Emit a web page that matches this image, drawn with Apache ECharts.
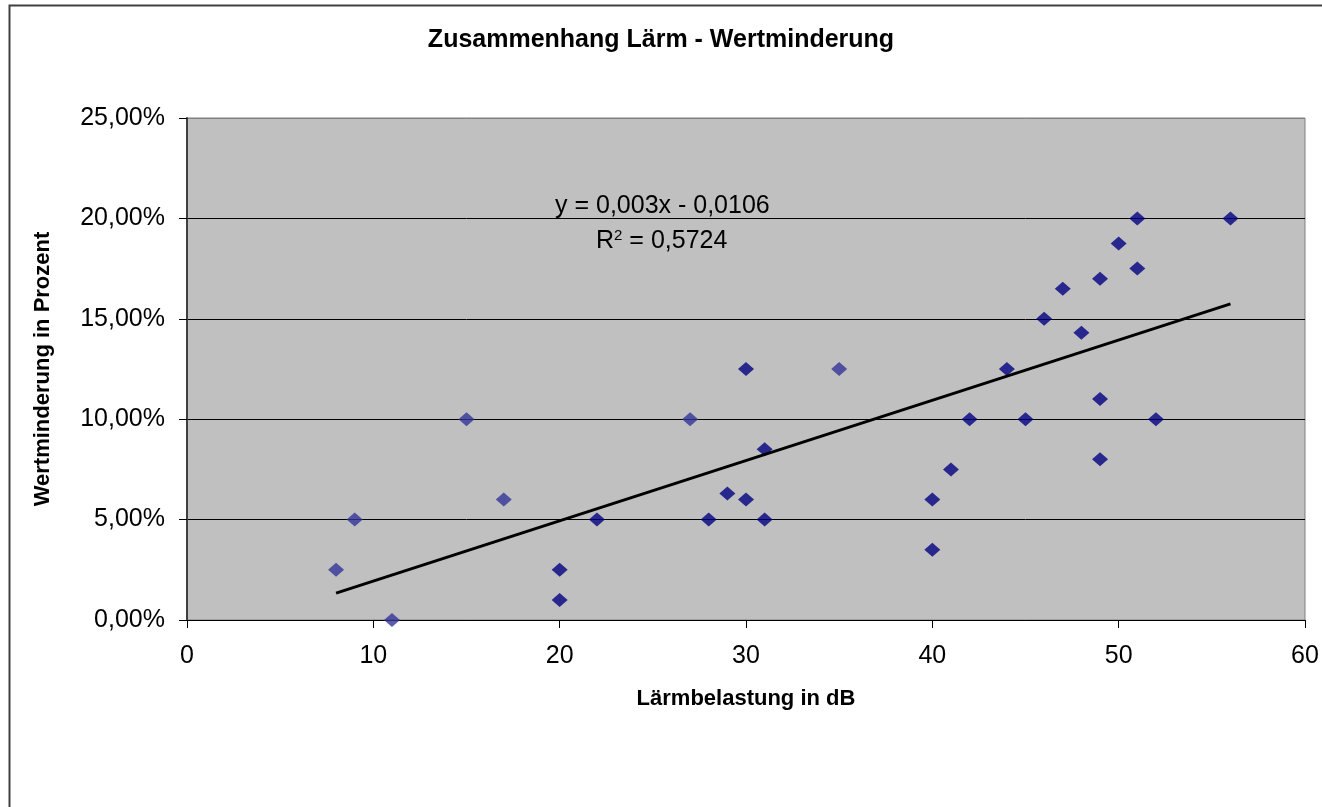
<!DOCTYPE html>
<html>
<head>
<meta charset="utf-8">
<script src="https://cdn.jsdelivr.net/npm/echarts@6/dist/echarts.min.js"></script>
<style>html,body{margin:0;padding:0;background:#fff;}#c{width:1322px;height:807px;}</style>
</head>
<body>
<div id="c"></div>
<script>
// Series A (lighter blue markers)
const lightX = [8, 9, 11, 15, 17, 27, 35];
const lightY = [0.025, 0.05, 0.0, 0.10, 0.06, 0.10, 0.125];
// Series B (dark navy markers)
const darkX = [20, 20, 22, 28, 29, 30, 30, 31, 31, 40, 40, 41, 42, 44, 45, 46, 47, 48, 49, 49, 49, 50, 51, 51, 52, 56];
const darkY = [0.025, 0.01, 0.05, 0.05, 0.063, 0.06, 0.125, 0.085, 0.05, 0.06, 0.035, 0.075, 0.10, 0.125, 0.10, 0.15, 0.165, 0.143, 0.17, 0.11, 0.08, 0.1875, 0.20, 0.175, 0.10, 0.20];
// Trendline (as displayed): y = 0,003x - 0,0106, drawn from x=8 to x=56
const trendSlope = 0.003;
const trendIntercept = -0.0106;
const trendRange = [8, 56];
const xTicks = [0, 10, 20, 30, 40, 50, 60];
const yTicks = [0, 0.05, 0.10, 0.15, 0.20, 0.25];

const lightData = lightX.map((x, i) => [x, lightY[i]]);
const darkData = darkX.map((x, i) => [x, darkY[i]]);
const trendData = trendRange.map(x => [x, trendSlope * x + trendIntercept]);

const font = 'Liberation Sans, Arial, sans-serif';
const chart = echarts.init(document.getElementById('c'), null, {renderer: 'canvas'});
chart.setOption({
  animation: false,
  backgroundColor: '#ffffff',
  title: {
    text: 'Zusammenhang Lärm - Wertminderung',
    left: 'center', top: 23,
    textStyle: {fontFamily: font, fontSize: 25, fontWeight: 'bold', color: '#000'}
  },
  grid: {
    left: 187, right: 17, top: 118, bottom: 187,
    show: true, backgroundColor: '#C0C0C0', borderColor: '#808080', borderWidth: 1
  },
  xAxis: {
    type: 'value', min: xTicks[0], max: xTicks[xTicks.length - 1], interval: 10,
    name: 'Lärmbelastung in dB', nameLocation: 'middle', nameGap: 68,
    nameTextStyle: {fontFamily: font, fontSize: 22, fontWeight: 'bold', color: '#000'},
    axisLine: {show: true, lineStyle: {color: '#000', width: 1}},
    axisTick: {show: true, inside: false, length: 8, lineStyle: {color: '#000'}},
    axisLabel: {fontFamily: font, fontSize: 25, color: '#000', margin: 24},
    splitLine: {show: false}
  },
  yAxis: {
    type: 'value', min: yTicks[0], max: yTicks[yTicks.length - 1], interval: 0.05,
    name: 'Wertminderung in Prozent', nameLocation: 'middle', nameGap: 133, nameRotate: 90,
    nameTextStyle: {fontFamily: font, fontSize: 22, fontWeight: 'bold', color: '#000'},
    axisLine: {show: true, lineStyle: {color: '#404040', width: 2}},
    axisTick: {show: true, inside: false, length: 8, lineStyle: {color: '#000'}},
    axisLabel: {
      fontFamily: font, fontSize: 25, color: '#000', margin: 22,
      formatter: v => (v * 100).toFixed(2).replace('.', ',') + '%'
    },
    splitLine: {show: true, lineStyle: {color: ['#000', '#000', '#000', '#000', '#000', '#808080'], width: 1}}
  },
  series: [
    {
      type: 'scatter', data: lightData, symbol: 'diamond', symbolSize: [16, 14],
      itemStyle: {color: '#333399'}, z: 3
    },
    {
      type: 'scatter', data: darkData, symbol: 'diamond', symbolSize: [16, 14],
      itemStyle: {color: '#000080'}, z: 3
    },
    {
      type: 'line', data: trendData, showSymbol: false, symbol: 'none',
      lineStyle: {color: '#000', width: 3}, z: 4
    }
  ],
  graphic: [
    {
      type: 'rect', left: 7, top: 3, z: 100, silent: true,
      shape: {width: 1400, height: 900},
      style: {fill: null, stroke: '#404040', lineWidth: 2}
    },
    {
      type: 'text', left: 555, top: 194, z: 100,
      style: {text: 'y = 0,003x - 0,0106', font: '25px ' + font, fill: '#000'}
    },
    {
      type: 'text', left: 596, top: 228, z: 100,
      style: {
        text: 'R{s|2} = 0,5724', font: '25px ' + font, fill: '#000',
        rich: {s: {fontSize: 15, fontFamily: font, verticalAlign: 'top', padding: [0, 0, 12, 0], fill: '#000'}}
      }
    }
  ]
});
</script>
</body>
</html>
